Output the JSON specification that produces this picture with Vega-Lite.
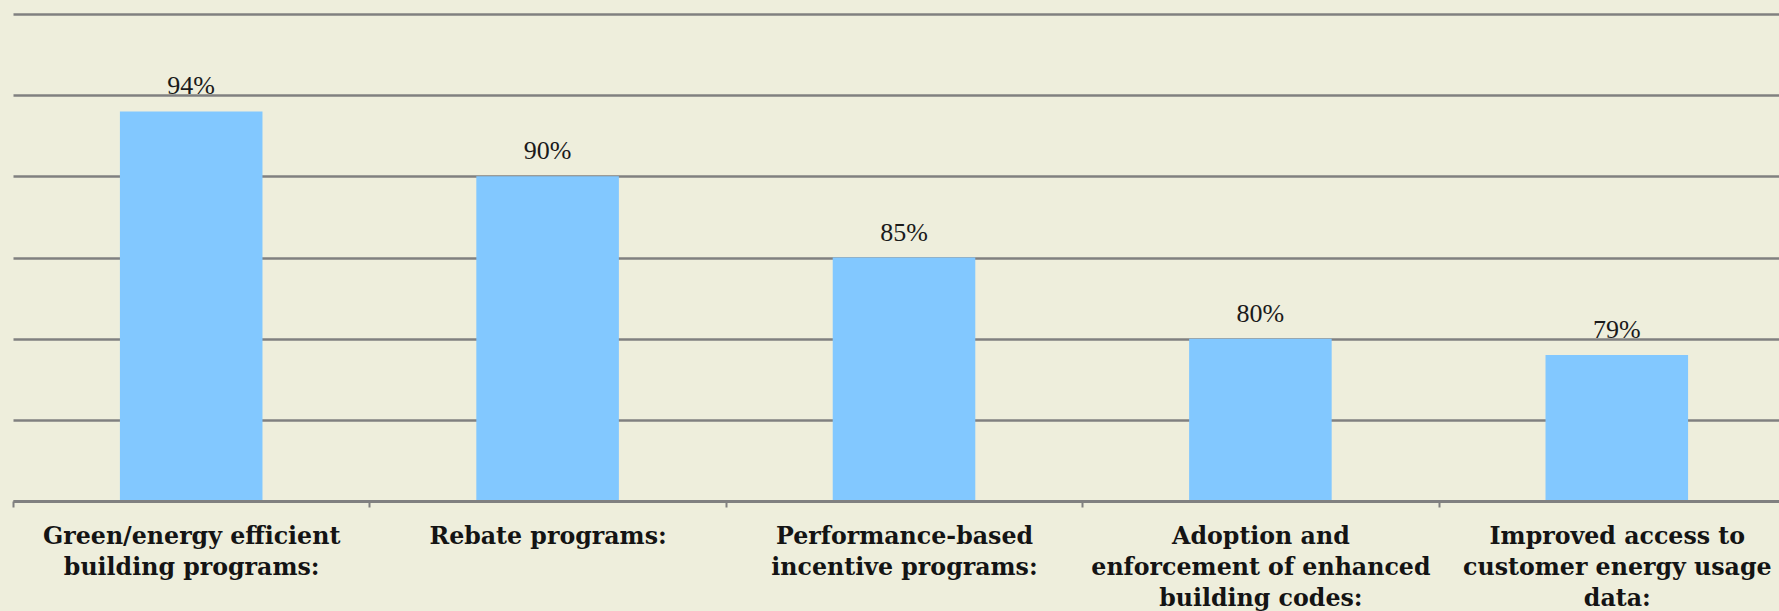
{
  "$schema": "https://vega.github.io/schema/vega-lite/v6.json",
  "width": 1766,
  "height": 487,
  "autosize": {"type": "none"},
  "padding": {"left": 13, "top": 14, "right": 0, "bottom": 110},
  "background": "#EEEEDC",
  "config": {"view": {"stroke": null}},
  "data": {
    "values": [
      {"category": "Green/energy efficient building programs:", "value": 0.94},
      {"category": "Rebate programs:", "value": 0.90},
      {"category": "Performance-based incentive programs:", "value": 0.85},
      {"category": "Adoption and enforcement of enhanced building codes:", "value": 0.80},
      {"category": "Improved access to customer energy usage data:", "value": 0.79}
    ]
  },
  "encoding": {
    "x": {
      "field": "category",
      "type": "nominal",
      "sort": null,
      "scale": {"range": [0, 1782], "paddingInner": 0, "paddingOuter": 0},
      "axis": {
        "title": null,
        "labelAngle": 0,
        "labelFont": "DejaVu Serif",
        "labelFontWeight": "bold",
        "labelFontSize": 23.7,
        "labelColor": "#141414",
        "labelLineHeight": 31,
        "labelPadding": 17,
        "labelLimit": 0,
        "labelExpr": "datum.value == 'Green/energy efficient building programs:' ? ['Green/energy efficient', 'building programs:'] : datum.value == 'Performance-based incentive programs:' ? ['Performance-based', 'incentive programs:'] : datum.value == 'Adoption and enforcement of enhanced building codes:' ? ['Adoption and', 'enforcement of enhanced', 'building codes:'] : datum.value == 'Improved access to customer energy usage data:' ? ['Improved access to', 'customer energy usage', 'data:'] : datum.value",
        "domainColor": "#808080",
        "domainWidth": 3,
        "tickColor": "#808080",
        "tickWidth": 2,
        "tickSize": 6,
        "tickBand": "extent",
        "grid": false,
        "zindex": 1
      }
    },
    "y": {
      "field": "value",
      "type": "quantitative",
      "scale": {"domain": [0.7, 1.0], "nice": false, "zero": false},
      "axis": {
        "title": null,
        "labels": false,
        "ticks": false,
        "domain": false,
        "values": [0.7, 0.75, 0.8, 0.85, 0.9, 0.95, 1.0],
        "grid": true,
        "gridColor": "#808080",
        "gridWidth": 2.5
      }
    }
  },
  "layer": [
    {
      "mark": {"type": "bar", "color": "#82C8FF", "width": {"band": 0.4}},
      "encoding": {"y2": {"datum": 0.7}}
    },
    {
      "mark": {"type": "text", "baseline": "alphabetic", "dy": -17, "font": "Liberation Serif", "fontSize": 26, "color": "#1a1a1a"},
      "encoding": {"text": {"field": "value", "type": "quantitative", "format": ".0%"}}
    }
  ]
}
